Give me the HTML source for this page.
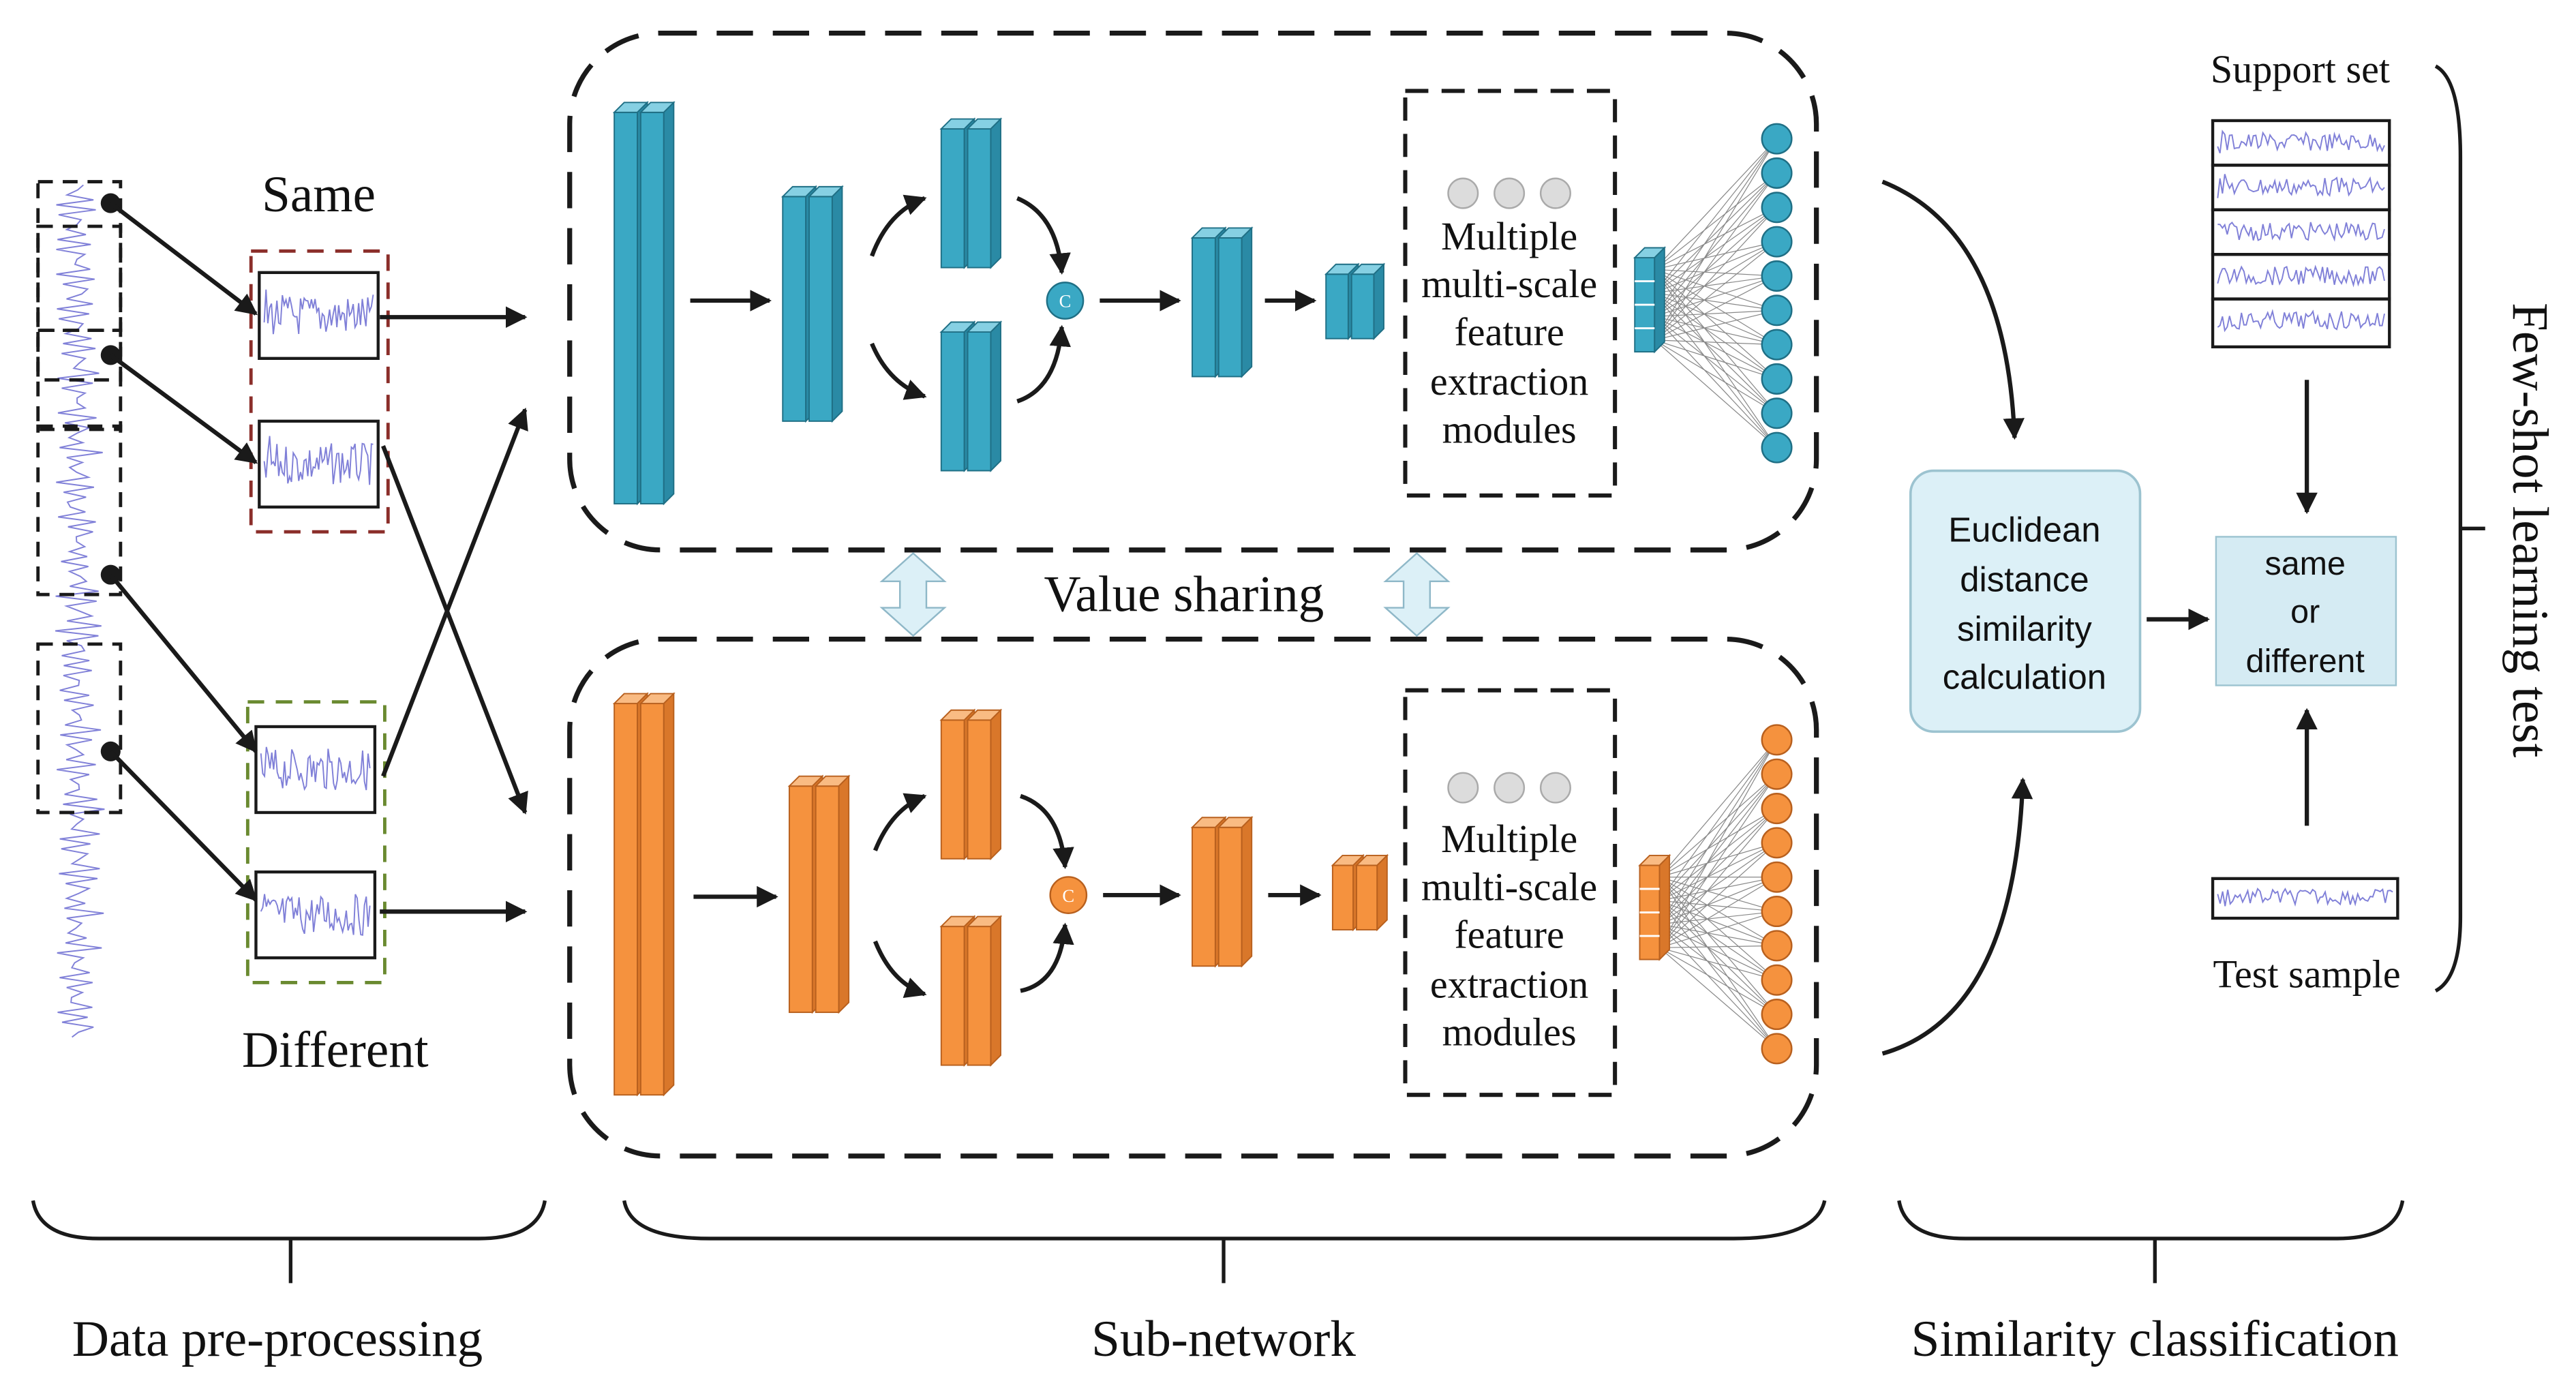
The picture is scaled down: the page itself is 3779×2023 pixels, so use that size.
<!DOCTYPE html>
<html><head><meta charset="utf-8">
<style>
html,body{margin:0;padding:0;background:#fff;}
svg{display:block;}
text{font-family:"Liberation Serif",serif;fill:#111;}
.sans{font-family:"Liberation Sans",sans-serif;}
</style></head>
<body>
<svg id="s" width="3779" height="2023" viewBox="0 0 1560 835" xmlns="http://www.w3.org/2000/svg">
<defs>
<marker id="ah" viewBox="0 0 10 10" refX="9" refY="5" markerWidth="5" markerHeight="5" orient="auto"><path d="M0,0 L10,5 L0,10 z" fill="#1a1a1a"/></marker>
</defs>
<g id="waves" fill="none" stroke="#8080d8" stroke-width="0.8"></g>
<g id="shapes"></g>

<g fill="none" stroke="#1a1a1a" stroke-width="2" stroke-dasharray="9,6">
<rect x="23" y="110" width="50" height="90"/>
<rect x="23" y="137" width="50" height="93"/>
<rect x="23" y="200" width="50" height="60"/>
<rect x="23" y="258" width="50" height="102"/>
<rect x="23" y="390" width="50" height="102"/>
</g>
<g fill="#1a1a1a"><circle cx="67" cy="123" r="6"/><circle cx="67" cy="215" r="6"/><circle cx="67" cy="348" r="6"/><circle cx="67" cy="455" r="6"/></g>
<rect x="152" y="152" width="83" height="170" fill="none" stroke="#8b2e2a" stroke-width="2" stroke-dasharray="10,7"/>
<rect x="150" y="425" width="83" height="170" fill="none" stroke="#6a8a30" stroke-width="2" stroke-dasharray="10,7"/>
<g fill="none" stroke="#1a1a1a" stroke-width="1.8">
<rect x="157" y="165" width="72" height="52"/><rect x="157" y="255" width="72" height="52"/>
<rect x="155" y="440" width="72" height="52"/><rect x="155" y="528" width="72" height="52"/>
</g>
<text x="193" y="128" font-size="31" text-anchor="middle">Same</text>
<text x="203" y="646" font-size="31" text-anchor="middle">Different</text>

<g stroke="#1a1a1a" stroke-width="2.6" fill="none" marker-end="url(#ah)">
<line x1="67" y1="123" x2="155" y2="190"/>
<line x1="67" y1="215" x2="155" y2="280"/>
<line x1="67" y1="348" x2="155" y2="455"/>
<line x1="67" y1="455" x2="155" y2="545"/>
<line x1="230" y1="192" x2="318" y2="192"/>
<line x1="232" y1="270" x2="318" y2="492"/>
<line x1="232" y1="470" x2="318" y2="248"/>
<line x1="230" y1="552" x2="318" y2="552"/>
<line x1="418" y1="182" x2="466" y2="182"/>
<line x1="666" y1="182" x2="714" y2="182"/>
<line x1="766" y1="182" x2="796" y2="182"/>
<line x1="420" y1="543" x2="470" y2="543"/>
<line x1="668" y1="542" x2="714" y2="542"/>
<line x1="768" y1="542" x2="799" y2="542"/>
<path d="M528,155 Q538,128 560,120"/>
<path d="M528,208 Q538,232 560,240"/>
<path d="M616,120 Q640,130 643,165"/>
<path d="M616,243 Q640,235 643,198"/>
<path d="M530,515 Q540,490 560,482"/>
<path d="M530,570 Q540,595 560,602"/>
<path d="M618,482 Q642,490 645,525"/>
<path d="M618,600 Q642,595 645,560"/>
<path d="M1140,110 Q1215,140 1220,265"/>
<path d="M1140,638 Q1220,615 1225,472"/>
<line x1="1300" y1="375" x2="1337" y2="375"/>
<line x1="1397" y1="230" x2="1397" y2="310"/>
<line x1="1397" y1="500" x2="1397" y2="430"/>
</g>

<g fill="none" stroke="#1a1a1a" stroke-width="3" stroke-dasharray="22,12">
<rect x="345" y="20" width="755" height="313" rx="55"/>
<rect x="345" y="387" width="755" height="313" rx="55"/>
<rect x="851" y="55" width="127" height="245" stroke-width="2.5" stroke-dasharray="14,8"/>
<rect x="851" y="418" width="127" height="245" stroke-width="2.5" stroke-dasharray="14,8"/>
</g>
<g fill="#dcdcdc" stroke="#aaa"><circle cx="886" cy="117" r="9"/><circle cx="914" cy="117" r="9"/><circle cx="942" cy="117" r="9"/>
<circle cx="886" cy="477" r="9"/><circle cx="914" cy="477" r="9"/><circle cx="942" cy="477" r="9"/></g>
<g font-size="24" text-anchor="middle">
<text x="914" y="151">Multiple</text><text x="914" y="180">multi-scale</text><text x="914" y="209">feature</text><text x="914" y="239">extraction</text><text x="914" y="268">modules</text>
<text x="914" y="516">Multiple</text><text x="914" y="545">multi-scale</text><text x="914" y="574">feature</text><text x="914" y="604">extraction</text><text x="914" y="633">modules</text>
</g>
<g fill="#3aa8c4" stroke="#1f6f85"><circle cx="645" cy="182" r="11"/></g>
<g fill="#f5923e" stroke="#b8601e"><circle cx="647" cy="542" r="11"/></g>
<text x="645" y="186" font-size="11" text-anchor="middle" style="fill:#fff">C</text>
<text x="647" y="546" font-size="11" text-anchor="middle" style="fill:#fff">C</text>

<g fill="#dcf0f7" stroke="#8fb8c8" stroke-width="1">
<path d="M553,335 L572,352 L561,352 L561,368 L572,368 L553,385 L534,368 L545,368 L545,352 L534,352 z"/>
<path d="M858,335 L877,352 L866,352 L866,368 L877,368 L858,385 L839,368 L850,368 L850,352 L839,352 z"/>
</g>
<text x="717" y="370" font-size="31" text-anchor="middle">Value sharing</text>

<rect x="1157" y="285" width="139" height="158" rx="14" fill="#dcf0f7" stroke="#9cc3d0" stroke-width="1.5"/>
<g font-size="21" text-anchor="middle" class="sans"><text class="sans" x="1226" y="328">Euclidean</text><text class="sans" x="1226" y="358">distance</text><text class="sans" x="1226" y="388">similarity</text><text class="sans" x="1226" y="417">calculation</text></g>
<rect x="1342" y="325" width="109" height="90" fill="#d5ebf3" stroke="#9cc3d0"/>
<g font-size="20" text-anchor="middle"><text class="sans" x="1396" y="348">same</text><text class="sans" x="1396" y="377">or</text><text class="sans" x="1396" y="407">different</text></g>
<text x="1393" y="50" font-size="24" text-anchor="middle">Support set</text>
<text x="1397" y="598" font-size="24" text-anchor="middle">Test sample</text>
<g fill="none" stroke="#1a1a1a" stroke-width="1.8">
<rect x="1340" y="73" width="107" height="27"/><rect x="1340" y="100" width="107" height="27"/><rect x="1340" y="127" width="107" height="27"/><rect x="1340" y="154" width="107" height="27"/><rect x="1340" y="181" width="107" height="29"/>
<rect x="1340" y="532" width="112" height="24"/>
</g>
<g fill="none" stroke="#1a1a1a" stroke-width="2.2">
<path d="M1475,40 Q1490,48 1490,95 L1490,555 Q1490,592 1475,600"/><line x1="1490" y1="320" x2="1505" y2="320"/>
<path d="M20,727 Q24,750 60,750 L290,750 Q326,750 330,727"/><line x1="176" y1="750" x2="176" y2="777"/>
<path d="M378,727 Q382,750 430,750 L1050,750 Q1100,750 1105,727"/><line x1="741" y1="750" x2="741" y2="777"/>
<path d="M1150,727 Q1154,750 1190,750 L1415,750 Q1451,750 1455,727"/><line x1="1305" y1="750" x2="1305" y2="777"/>
</g>
<text transform="translate(1522,321) rotate(90)" font-size="31" text-anchor="middle">Few-shot  learning test</text>
<g font-size="31" text-anchor="middle"><text x="168" y="821">Data pre-processing</text><text x="741" y="821">Sub-network</text><text x="1305" y="821">Similarity classification</text></g>
</svg>
<script>
var NS="http://www.w3.org/2000/svg",sh=document.getElementById('shapes'),wv=document.getElementById('waves');
function el(t,a,p){var e=document.createElementNS(NS,t);for(var k in a)e.setAttribute(k,a[k]);(p||sh).appendChild(e);return e;}
var B={f:'#3aa8c4',s:'#2a8aa5',t:'#86d0e3',k:'#1f6f85'},O={f:'#f5923e',s:'#d9772a',t:'#f9bb83',k:'#b8601e'};
function slab(x,y,w,h,c){var d=6;y+=d;
el('rect',{x:x,y:y,width:w,height:h-d,fill:c.f,stroke:c.k,'stroke-width':0.8});
el('polygon',{points:[x,y,x+d,y-d,x+w+d,y-d,x+w,y].join(' '),fill:c.t,stroke:c.k,'stroke-width':0.8});
el('polygon',{points:[x+w,y,x+w+d,y-d,x+w+d,y+h-2*d,x+w,y+h-d].join(' '),fill:c.s,stroke:c.k,'stroke-width':0.8});}
function bar(x1,x2,y1,y2,c){var w=(x2-x1-6)/2-1;slab(x1,y1,w,y2-y1,c);slab(x1+w+2,y1,w,y2-y1,c);}
bar(372,408,62,305,B);bar(474,510,113,255,B);bar(570,606,72,162,B);bar(570,606,195,285,B);bar(722,758,138,228,B);bar(803,838,160,205,B);
bar(372,408,420,663,O);bar(478,514,470,613,O);bar(570,606,430,520,O);bar(570,606,555,645,O);bar(722,758,495,585,O);bar(807,840,518,563,O);
function col(bx,by,bh,cy0,cy1,c){var n=10;for(var i=0;i<n;i++){var cy=cy0+(cy1-cy0)*i/(n-1);for(var j=0;j<4;j++)el('line',{x1:bx+12,y1:by+bh*(j+0.5)/4,x2:1076,y2:cy,stroke:'#888','stroke-width':0.5});}
slab(bx,by-6,12,bh+6,c);for(var j=1;j<4;j++)el('line',{x1:bx,y1:by+bh*j/4,x2:bx+12,y2:by+bh*j/4,stroke:'#fff','stroke-width':1.2});
for(var i=0;i<n;i++){var cy=cy0+(cy1-cy0)*i/(n-1);el('circle',{cx:1076,cy:cy,r:9,fill:c.f,stroke:c.k,'stroke-width':1});}}
col(990,156,57,84,271,B);col(993,524,57,448,635,O);
var seed=7;function r(){seed=(seed*9301+49297)%233280;return seed/233280;}
function wave(x,y,w,h,n){var p=[];for(var i=0;i<=n;i++){p.push((x+w*i/n).toFixed(1)+','+(y+h/2+(r()-0.5)*h*(i<5?1:0.7)).toFixed(1));}el('polyline',{points:p.join(' ')},wv);}
var p=[];for(var yy=112;yy<630;yy+=3){p.push((47+Math.sin(yy*0.9)*13*(0.6+r()*0.6)+(r()-0.5)*6).toFixed(1)+','+yy);}el('polyline',{points:p.join(' ')},wv);
[[157,165],[157,255],[155,440],[155,528]].forEach(function(a){wave(a[0]+3,a[1]+8,66,36,60);});
[73,100,127,154,181].forEach(function(y){wave(1343,y+5,101,16,70);});wave(1343,536,106,14,70);
</script>
</body></html>
